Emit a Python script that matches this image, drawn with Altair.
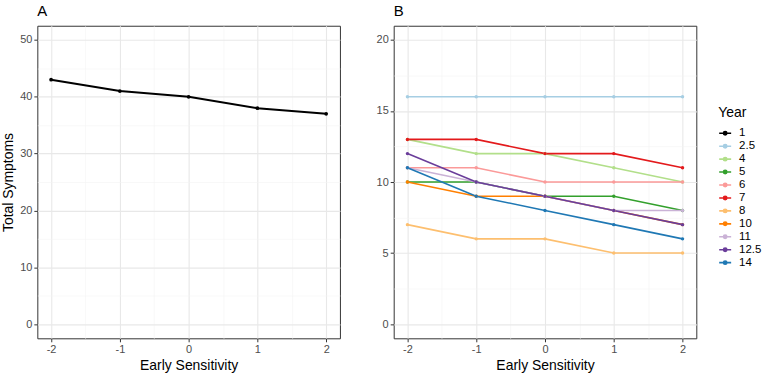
import altair as alt
import pandas as pd

# ---- data ----
sensitivity = [-2, -1, 0, 1, 2]
years = ["1", "2.5", "4", "5", "6", "7", "8", "10", "11", "12.5", "14"]
year_colors = ["#000000", "#a6cee3", "#b2df8a", "#33a02c", "#fb9a99", "#e31a1c",
               "#fdbf6f", "#ff7f00", "#cab2d6", "#6a3d9a", "#1f78b4"]

year_1 = [43, 41, 40, 38, 37]
year_2_5 = [16, 16, 16, 16, 16]
year_4 = [13, 12, 12, 11, 10]
year_5 = [10, 10, 9, 9, 8]
year_6 = [11, 11, 10, 10, 10]
year_7 = [13, 13, 12, 12, 11]
year_8 = [7, 6, 6, 5, 5]
year_10 = [10, 9, 9, 8, 7]
year_11 = [11, 10, 9, 8, 8]
year_12_5 = [12, 10, 9, 8, 7]
year_14 = [11, 9, 8, 7, 6]

x_ticks = [-2, -1.5, -1, -0.5, 0, 0.5, 1, 1.5, 2]
ya_ticks = [0, 5, 10, 15, 20, 25, 30, 35, 40, 45, 50]
yb_ticks = [0, 2.5, 5, 7.5, 10, 12.5, 15, 17.5, 20]

series_b = {"2.5": year_2_5, "4": year_4, "5": year_5, "6": year_6, "7": year_7,
            "8": year_8, "10": year_10, "11": year_11, "12.5": year_12_5, "14": year_14}

df_a = pd.DataFrame({"Sensitivity": sensitivity, "Total": year_1, "Year": "1"})
rows = []
for y in years[1:]:
    for s, v in zip(sensitivity, series_b[y]):
        rows.append({"Sensitivity": s, "Total": v, "Year": y})
df_b = pd.DataFrame(rows)

FONT = "Liberation Sans"
MAJOR = "#e8e8e8"
MINOR = "#f3f3f3"


def x_axis():
    return alt.Axis(
        values=x_ticks,
        labelExpr="datum.value % 1 == 0 ? toString(datum.value) : ''",
        title="Early Sensitivity", titlePadding=4,
        gridColor={"condition": {"test": "datum.value % 1 == 0", "value": MAJOR}, "value": MINOR},
        gridWidth={"condition": {"test": "datum.value % 1 == 0", "value": 1.1}, "value": 0.6},
        tickOpacity={"condition": {"test": "datum.value % 1 == 0", "value": 1}, "value": 0},
    )


def y_axis(vals, step, title):
    test = f"datum.value % {step} == 0"
    kw = dict(
        values=vals,
        labelExpr=f"{test} ? toString(datum.value) : ''",
        gridColor={"condition": {"test": test, "value": MAJOR}, "value": MINOR},
        gridWidth={"condition": {"test": test, "value": 1.1}, "value": 0.6},
        tickOpacity={"condition": {"test": test, "value": 1}, "value": 0},
    )
    kw["title"] = title if title else None
    return alt.Axis(**kw)


color = alt.Color(
    "Year:N",
    scale=alt.Scale(domain=years, range=year_colors),
    sort=years,
    legend=alt.Legend(
        title="Year", orient="none", legendX=684, legendY=81, padding=0,
        symbolType="M-1,0H1M-0.28,0a0.28,0.28 0 1,0 0.56,0a0.28,0.28 0 1,0 -0.56,0",
        symbolSize=144, symbolStrokeWidth=1.6,
        labelFontSize=11.5, labelFont=FONT, labelColor="black",
        titleFontSize=14, titleFont=FONT, titleFontWeight="normal", titleColor="black",
        rowPadding=-0.7, titlePadding=6, labelOffset=7,
    ),
)

chart_a = alt.Chart(df_a).mark_line(
    strokeWidth=2, point=alt.OverlayMarkDef(size=14, filled=True)
).encode(
    x=alt.X("Sensitivity:Q", scale=alt.Scale(domain=[-2.2, 2.2], nice=False, zero=False), axis=x_axis()),
    y=alt.Y("Total:Q", scale=alt.Scale(domain=[-2.5, 52.5], nice=False, zero=False),
            axis=y_axis(ya_ticks, 10, "Total Symptoms")),
    color=color,
).properties(
    width=304, height=314,
    title=alt.TitleParams("A", anchor="start", frame="group", fontSize=15,
                          fontWeight="normal", font=FONT, color="black", offset=7),
)

chart_b = alt.Chart(df_b).mark_line(
    strokeWidth=1.6, point=alt.OverlayMarkDef(size=12, filled=True)
).encode(
    x=alt.X("Sensitivity:Q", scale=alt.Scale(domain=[-2.2, 2.2], nice=False, zero=False), axis=x_axis()),
    y=alt.Y("Total:Q", scale=alt.Scale(domain=[-1, 21], nice=False, zero=False),
            axis=y_axis(yb_ticks, 5, None)),
    color=color,
    order=alt.Order("Sensitivity:Q"),
).properties(
    width=304, height=314,
    title=alt.TitleParams("B", anchor="start", frame="group", fontSize=15,
                          fontWeight="normal", font=FONT, color="black", offset=7),
)

chart = alt.hconcat(chart_a, chart_b, spacing=54, bounds="flush").configure(
    padding={"left": 0.5, "top": 2, "right": 0, "bottom": 0}
).configure_view(
    stroke="#333333", strokeWidth=1
).configure_axis(
    labelFont=FONT, labelFontSize=11, labelColor="#4d4d4d",
    titleFont=FONT, titleFontSize=14, titleFontWeight="normal", titleColor="black",
    tickColor="#333333", tickSize=3.5, labelPadding=2, domain=False,
)

chart.save("out.html", embed_options={"renderer": "svg", "actions": False})
